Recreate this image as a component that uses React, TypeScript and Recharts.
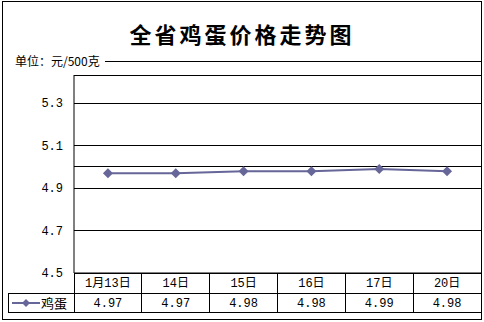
import { CartesianGrid, Line, LineChart, ReferenceLine, XAxis, YAxis } from "recharts";

const title = "全省鸡蛋价格走势图";
const unitLabel = "单位：元/500克";
const seriesName = "鸡蛋";
const categories = ["1月13日", "14日", "15日", "16日", "17日", "20日"];
const eggPrices = [4.97, 4.97, 4.98, 4.98, 4.99, 4.98];
const yTicks = [4.5, 4.7, 4.9, 5.1, 5.3];
const extraGridValue = 5.0;
const yDomain: [number, number] = [4.5, 5.433];

const data = categories.map((day, i) => ({ day, price: eggPrices[i] }));

const W = 484;
const H = 322;
const PLOT_LEFT = 74;
const MARGIN_RIGHT = 3;
const PLOT_TOP = 75;
const PLOT_BOTTOM = 273;
const CELL_W = (W - PLOT_LEFT - MARGIN_RIGHT) / categories.length;
const ROW1 = PLOT_BOTTOM;
const ROW2 = PLOT_BOTTOM + 20;
const ROW3 = PLOT_BOTTOM + 39;
const TABLE_LEFT = 8;
const COLOR = "#666699";
const MONO = "'Liberation Mono', 'Noto Sans CJK SC', monospace";
const CJK = "'Noto Sans CJK SC', sans-serif";

function Diamond(props: any) {
  const { cx, cy, s = 5, index } = props;
  if (cx == null || cy == null) return null;
  return (
    <polygon
      key={index}
      points={`${cx},${cy - s} ${cx + s},${cy} ${cx},${cy + s} ${cx - s},${cy}`}
      fill={COLOR}
    />
  );
}

// each x tick draws its own column of the data table under the plot
function TableTick(props: any) {
  const { x, payload, index } = props;
  const left = x - CELL_W / 2;
  return (
    <g>
      <rect
        x={left}
        y={ROW1}
        width={CELL_W}
        height={ROW3 - ROW1}
        fill="none"
        stroke="#000"
        shapeRendering="crispEdges"
      />
      <line x1={left} x2={left + CELL_W} y1={ROW2} y2={ROW2} stroke="#000" shapeRendering="crispEdges" />
      <text x={x} y={ROW1 + 14} textAnchor="middle" fontSize={12} fontFamily={MONO} fill="#000">
        {payload.value}
      </text>
      <text x={x} y={ROW2 + 14} textAnchor="middle" fontSize={12} fontFamily={MONO} fill="#000">
        {eggPrices[index].toFixed(2)}
      </text>
      {index === 0 && (
        <g>
          <rect
            x={TABLE_LEFT}
            y={ROW2}
            width={PLOT_LEFT - TABLE_LEFT}
            height={ROW3 - ROW2}
            fill="none"
            stroke="#000"
            shapeRendering="crispEdges"
          />
          <line x1={12} x2={40} y1={ROW2 + 10} y2={ROW2 + 10} stroke={COLOR} strokeWidth={2} />
          <Diamond cx={26} cy={ROW2 + 10} s={4} />
          <text x={41} y={ROW2 + 15} fontSize={13} fontFamily={CJK} fill="#000">
            {seriesName}
          </text>
        </g>
      )}
    </g>
  );
}

export default function App() {
  return (
    <div style={{ position: "absolute", left: 0, top: 0, width: W, height: H, background: "#fff" }}>
      <div
        style={{
          position: "absolute",
          left: 2,
          top: 1,
          width: 478,
          height: 317,
          border: "1px solid #000",
        }}
      />
      <div
        style={{
          position: "absolute",
          left: 0,
          top: 18,
          width: W,
          lineHeight: "30px",
          textAlign: "center",
          fontFamily: CJK,
          fontWeight: 700,
          fontSize: 22,
          letterSpacing: 3,
        }}
      >
        {title}
      </div>
      <div
        style={{
          position: "absolute",
          left: 15,
          top: 53,
          lineHeight: "16px",
          fontFamily: CJK,
          fontSize: 12,
        }}
      >
        {unitLabel}
      </div>
      <div style={{ position: "absolute", left: 105, top: 61, width: 376, height: 1, background: "#000" }} />
      <div style={{ position: "absolute", left: 0, top: 0 }}>
        <LineChart
          width={W}
          height={H}
          data={data}
          margin={{ top: PLOT_TOP, right: MARGIN_RIGHT, bottom: 0, left: 0 }}
        >
          <CartesianGrid vertical={false} stroke="#000" shapeRendering="crispEdges" />
          <ReferenceLine y={extraGridValue} stroke="#000" shapeRendering="crispEdges" />
          <XAxis
            dataKey="day"
            interval={0}
            height={H - PLOT_BOTTOM}
            padding={{ left: CELL_W / 2, right: CELL_W / 2 }}
            axisLine={{ stroke: "#000" }}
            tickLine={false}
            tickSize={0}
            tick={(p: any) => <TableTick {...p} />}
          />
          <YAxis
            type="number"
            domain={yDomain}
            ticks={yTicks}
            allowDataOverflow
            width={PLOT_LEFT}
            axisLine={{ stroke: "#000" }}
            tickLine={false}
            tickSize={0}
            tickMargin={11}
            tick={{ fill: "#000", fontSize: 12, fontFamily: MONO }}
            tickFormatter={(v: number) => v.toFixed(1)}
          />
          <Line
            type="linear"
            dataKey="price"
            name={seriesName}
            stroke={COLOR}
            strokeWidth={2}
            dot={(p: any) => <Diamond {...p} key={p.index} />}
            activeDot={false}
            isAnimationActive={false}
          />
        </LineChart>
      </div>
    </div>
  );
}
